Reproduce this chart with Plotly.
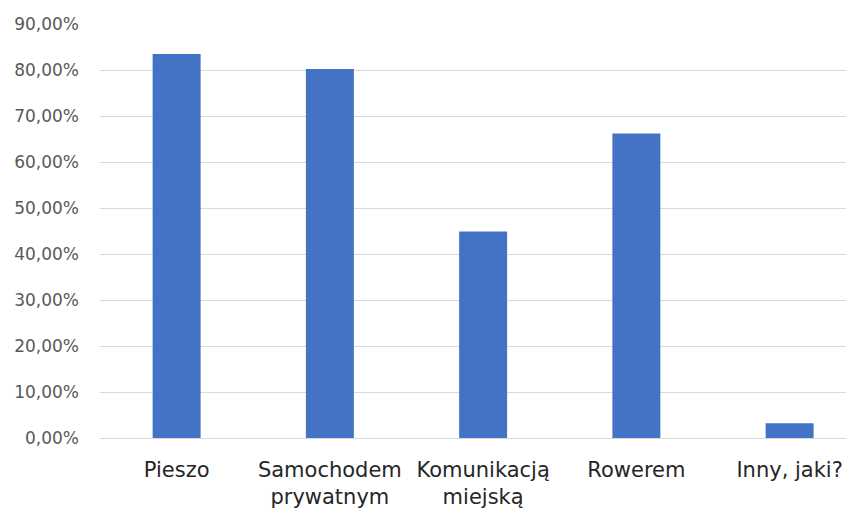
import plotly.graph_objects as go

categories = ["Pieszo", "Samochodem<br>prywatnym", "Komunikacją<br>miejską", "Rowerem", "Inny, jaki?"]
values = [0.835, 0.802, 0.449, 0.662, 0.032]
y_ticks = [0, 0.1, 0.2, 0.3, 0.4, 0.5, 0.6, 0.7, 0.8, 0.9]

fig = go.Figure(go.Bar(
    x=list(range(len(categories))),
    y=values,
    marker=dict(color="#4472c4", line=dict(width=0)),
    hoverinfo="skip",
))

fig.update_layout(
    width=854, height=511,
    margin=dict(l=92, r=12, t=16, b=81),
    paper_bgcolor="white", plot_bgcolor="white",
    separators=", ",
    bargap=0.687,
    showlegend=False,
    font=dict(family="DejaVu Sans"),
)
fig.update_xaxes(
    automargin=False,
    range=[-0.5, 4.394],
    tickmode="array",
    tickvals=list(range(len(categories))),
    ticktext=categories,
    tickfont=dict(size=21, color="#262626", family="DejaVu Sans"),
    showgrid=False, zeroline=False, showline=False, ticks="",
    ticklabelstandoff=17,
)
fig.update_yaxes(
    automargin=False,
    range=[0, 0.9],
    tickmode="array",
    tickvals=y_ticks,
    tickformat=".2%",
    tickfont=dict(size=17, color="#595959", family="DejaVu Sans"),
    showgrid=True, gridcolor="#d9d9d9", gridwidth=1,
    zeroline=True, zerolinecolor="#d9d9d9", zerolinewidth=1,
    showline=False, ticks="",
    ticklabelstandoff=20,
)

fig.write_html("out.html")
